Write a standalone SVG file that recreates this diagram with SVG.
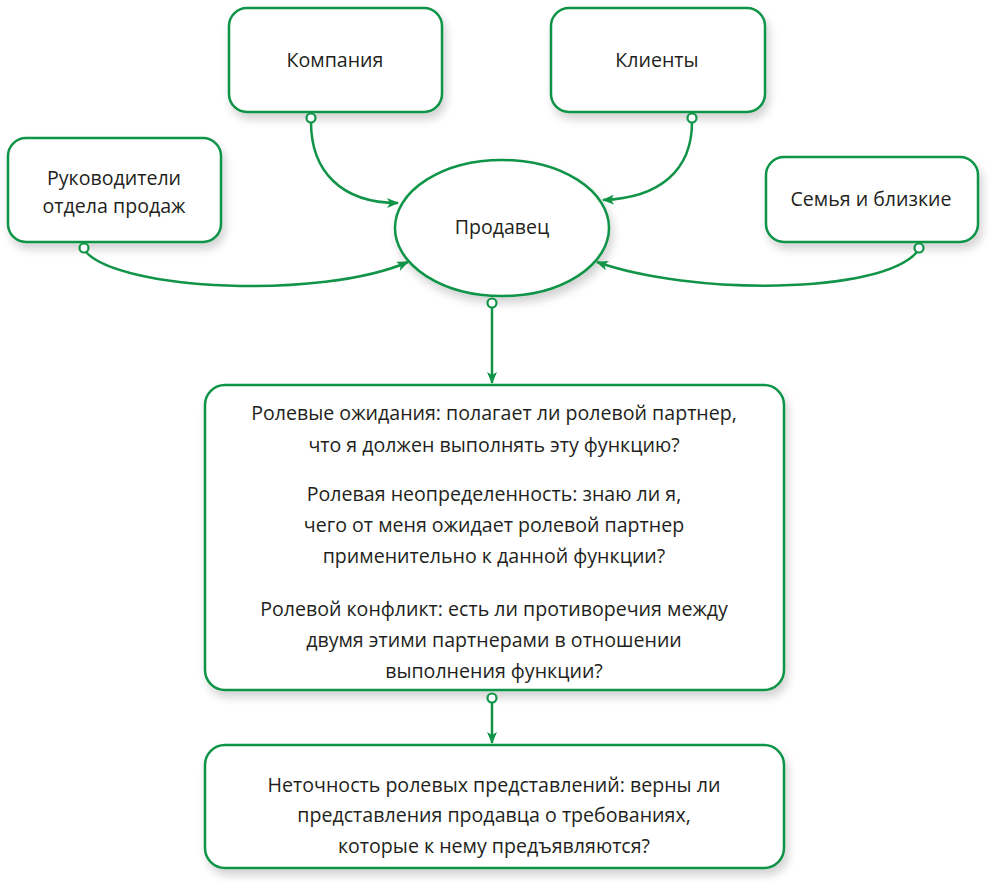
<svg xmlns="http://www.w3.org/2000/svg" width="1000" height="890" viewBox="0 0 1000 890">
<defs>
<filter id="sh" x="-20%" y="-20%" width="140%" height="150%">
<feGaussianBlur in="SourceAlpha" stdDeviation="5"/>
<feOffset dx="3" dy="6"/>
<feComponentTransfer><feFuncA type="linear" slope="0.18"/></feComponentTransfer>
<feMerge><feMergeNode/><feMergeNode in="SourceGraphic"/></feMerge>
</filter>
<marker id="ah" viewBox="0 0 12 10" refX="11" refY="5" markerWidth="12" markerHeight="10" markerUnits="userSpaceOnUse" orient="auto">
<path d="M0,0 L12,5 L0,10 L3,5 Z" fill="#119447"/>
</marker>
</defs>
<style>
.box{fill:#fff;stroke:#119447;stroke-width:2.5;filter:url(#sh)}
.t{font-family:"Open Sans","Liberation Sans",sans-serif;font-size:19.6px;fill:#231f20;text-anchor:middle}
.c{fill:none;stroke:#119447;stroke-width:2.5}
.dot{fill:#fff;stroke:#119447;stroke-width:2.2}
</style>
<rect width="1000" height="890" fill="#fff"/>
<g id="company"><rect class="box" x="229" y="8" width="213" height="104" rx="18"/><text class="t" x="335" y="67">Компания</text></g>
<g id="clients"><rect class="box" x="551" y="8" width="214" height="104" rx="18"/><text class="t" x="657" y="67">Клиенты</text></g>
<g id="managers"><rect class="box" x="8" y="138" width="213" height="104" rx="18"/><text class="t" x="114" y="185">Руководители</text><text class="t" x="114" y="213">отдела продаж</text></g>
<g id="family"><rect class="box" x="766" y="157" width="212" height="85" rx="18"/><text class="t" x="871" y="206">Семья и близкие</text></g>
<g id="seller"><ellipse class="box" cx="502" cy="228" rx="107" ry="68"/><text class="t" x="502" y="234">Продавец</text></g>
<g id="roles"><rect class="box" x="205" y="385" width="579" height="305" rx="20"/>
<text class="t" x="494" y="420">Ролевые ожидания: полагает ли ролевой партнер,</text>
<text class="t" x="494" y="452">что я должен выполнять эту функцию?</text>
<text class="t" x="494" y="501">Ролевая неопределенность: знаю ли я,</text>
<text class="t" x="494" y="532">чего от меня ожидает ролевой партнер</text>
<text class="t" x="494" y="563">применительно к данной функции?</text>
<text class="t" x="494" y="616">Ролевой конфликт: есть ли противоречия между</text>
<text class="t" x="494" y="647">двумя этими партнерами в отношении</text>
<text class="t" x="494" y="678">выполнения функции?</text>
</g>
<g id="inaccuracy"><rect class="box" x="205" y="745" width="579" height="123" rx="20"/>
<text class="t" x="494" y="792">Неточность ролевых представлений: верны ли</text>
<text class="t" x="494" y="822">представления продавца о требованиях,</text>
<text class="t" x="494" y="853">которые к нему предъявляются?</text>
</g>
<g id="connectors">
<path class="c" d="M311,122 C311,170 340,203 398,203" marker-end="url(#ah)"/>
<path class="c" d="M692,122 C692,170 660,198 603,200" marker-end="url(#ah)"/>
<path class="c" d="M86,252 C120,290 320,300 408,262" marker-end="url(#ah)"/>
<path class="c" d="M917,252 C880,295 690,295 597,262" marker-end="url(#ah)"/>
<path class="c" d="M492,307 L492,383" marker-end="url(#ah)"/>
<path class="c" d="M492,702 L492,743" marker-end="url(#ah)"/>
<circle class="dot" cx="311" cy="118" r="4.5"/>
<circle class="dot" cx="692" cy="118" r="4.5"/>
<circle class="dot" cx="84" cy="248" r="4.5"/>
<circle class="dot" cx="919" cy="248" r="4.5"/>
<circle class="dot" cx="492" cy="303" r="4.5"/>
<circle class="dot" cx="492" cy="698" r="4.5"/>
</g>
</svg>
